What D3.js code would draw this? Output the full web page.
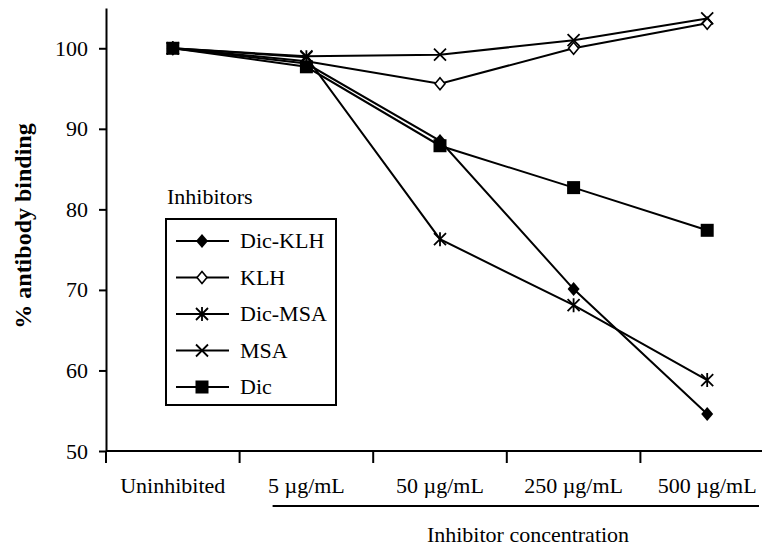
<!DOCTYPE html>
<html>
<head>
<meta charset="utf-8">
<script src="https://cdn.jsdelivr.net/npm/d3@7"></script>
<style>
	body { margin: 0; background: #fff; }
</style>
</head>
<body>
<div id="chart"></div>
<script>

const categories = ['Uninhibited', '5 \u00b5g/mL', '50 \u00b5g/mL', '250 \u00b5g/mL', '500 \u00b5g/mL'];
const yTicks = [50, 60, 70, 80, 90, 100];

const dicKLH = [100, 98.1, 88.5, 70.1, 54.6];
const klh = [100, 98.4, 95.6, 100.0, 103.1];
const dicMSA = [100, 98.9, 76.3, 68.1, 58.8];
const msa = [100, 99.0, 99.2, 101.0, 103.7];
const dic = [100, 97.7, 87.9, 82.7, 77.4];

const seriesNames = ['Dic-KLH', 'KLH', 'Dic-MSA', 'MSA', 'Dic'];
const seriesValues = [dicKLH, klh, dicMSA, msa, dic];
const seriesMarkers = ['diamondFilled', 'diamondOpen', 'asterisk', 'cross', 'square'];

const width = 762;
const height = 551;
const serif = "'Liberation Serif', 'Times New Roman', Times, serif";

const svg = d3.select('#chart')
	.append('svg')
	.attr('width', width)
	.attr('height', height)
	.attr('font-family', serif);

const x = d3.scaleBand()
	.domain(categories)
	.range([106, 774]);

const y = d3.scaleLinear()
	.domain([50, 105])
	.range([451, 8]);

// markers
const drawMarker = (g, type) => {
	if (type === 'diamondFilled') {
		g.append('path').attr('d', 'M0,-7L6,0L0,7L-6,0Z').attr('fill', '#000');
	} else if (type === 'diamondOpen') {
		g.append('path').attr('d', 'M0,-6L5,0L0,6L-5,0Z')
			.attr('fill', '#fff').attr('stroke', '#000').attr('stroke-width', 1.6);
	} else if (type === 'asterisk') {
		g.append('path').attr('d', 'M0,-7V7M-6,-6L6,6M6,-6L-6,6')
			.attr('stroke', '#000').attr('stroke-width', 1.8).attr('fill', 'none');
	} else if (type === 'cross') {
		g.append('path').attr('d', 'M-6,-6L6,6M6,-6L-6,6')
			.attr('stroke', '#000').attr('stroke-width', 1.8).attr('fill', 'none');
	} else if (type === 'square') {
		g.append('rect').attr('x', -6.5).attr('y', -6.5).attr('width', 13).attr('height', 13).attr('fill', '#000');
	}
};

// y axis
const yAxis = svg.append('g')
	.attr('transform', 'translate(106,0)')
	.call(d3.axisLeft(y).tickValues(yTicks).tickSize(7).tickSizeOuter(0).tickPadding(11));
yAxis.attr('font-family', serif).attr('font-size', 22);
yAxis.select('.domain').attr('stroke-width', 2);
yAxis.selectAll('.tick line').attr('stroke-width', 2);

// x axis
const xAxis = svg.append('g')
	.attr('transform', 'translate(0,451)');
xAxis.append('line')
	.attr('x1', 106).attr('x2', width)
	.attr('stroke', '#000').attr('stroke-width', 2);
xAxis.selectAll('.xtick')
	.data(categories)
	.enter()
	.append('line')
	.attr('class', 'xtick')
	.attr('x1', d => x(d)).attr('x2', d => x(d))
	.attr('y1', 0).attr('y2', 12)
	.attr('stroke', '#000').attr('stroke-width', 2);
xAxis.selectAll('.xlabel')
	.data(categories)
	.enter()
	.append('text')
	.attr('class', 'xlabel')
	.attr('x', d => x(d) + x.bandwidth() / 2)
	.attr('y', 42)
	.attr('text-anchor', 'middle')
	.attr('font-size', 22)
	.text(d => d);

// underline for the concentrations
svg.append('line')
	.attr('x1', x(categories[1]) + 33).attr('x2', 759)
	.attr('y1', 506).attr('y2', 506)
	.attr('stroke', '#000').attr('stroke-width', 2);

svg.append('text')
	.attr('x', 528)
	.attr('y', 542)
	.attr('text-anchor', 'middle')
	.attr('font-size', 22)
	.text('Inhibitor concentration');

svg.append('text')
	.attr('transform', 'translate(31,226) rotate(-90)')
	.attr('text-anchor', 'middle')
	.attr('font-size', 24)
	.attr('font-weight', 'bold')
	.text('% antibody binding');

// lines
const line = d3.line()
	.x((d, i) => x(categories[i]) + x.bandwidth() / 2)
	.y(d => y(d));

seriesValues.forEach((vals, s) => {
	svg.append('path')
		.attr('d', line(vals))
		.attr('fill', 'none')
		.attr('stroke', '#000')
		.attr('stroke-width', 2);
});

seriesValues.forEach((vals, s) => {
	vals.forEach((v, i) => {
		const g = svg.append('g')
			.attr('transform', 'translate(' + (x(categories[i]) + x.bandwidth() / 2) + ',' + y(v) + ')');
		drawMarker(g, seriesMarkers[s]);
	});
});

// legend
svg.append('text')
	.attr('x', 167)
	.attr('y', 204)
	.attr('font-size', 22)
	.text('Inhibitors');

const legend = svg.append('g');
legend.append('rect')
	.attr('x', 166).attr('y', 219)
	.attr('width', 170).attr('height', 186)
	.attr('fill', '#fff')
	.attr('stroke', '#000')
	.attr('stroke-width', 2);

seriesNames.forEach((name, s) => {
	const ly = 241 + s * 36.5;
	legend.append('line')
		.attr('x1', 176).attr('x2', 229)
		.attr('y1', ly).attr('y2', ly)
		.attr('stroke', '#000').attr('stroke-width', 2);
	drawMarker(legend.append('g').attr('transform', 'translate(202,' + ly + ')'), seriesMarkers[s]);
	legend.append('text')
		.attr('x', 240)
		.attr('y', ly + 7)
		.attr('font-size', 22)
		.text(name);
});

</script>
</body>
</html>
